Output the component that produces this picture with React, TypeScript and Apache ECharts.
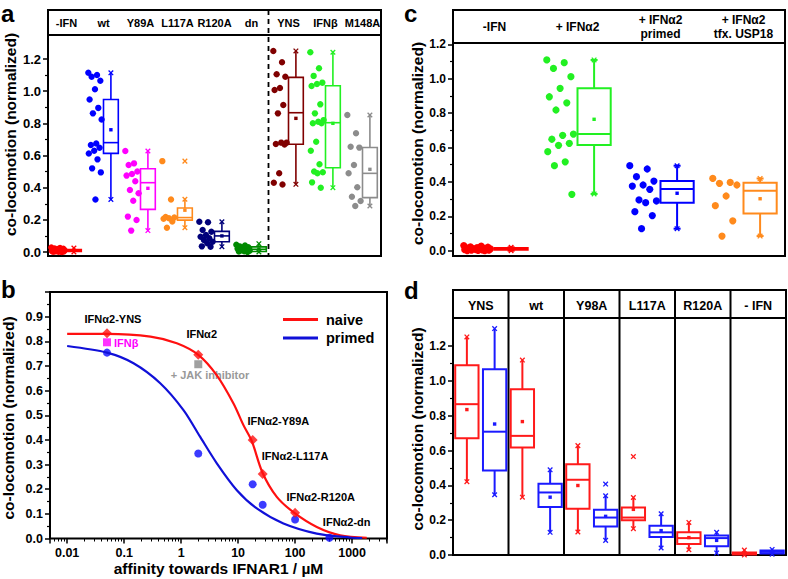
import React, { useEffect, useRef } from 'react';
import * as echarts from 'echarts';

const FONT = '"Liberation Sans", Arial, Helvetica, sans-serif';

// ---------- Panel a ----------
const aCategories = ['-IFN', 'wt', 'Y89A', 'L117A', 'R120A', 'dn', 'YNS', 'IFNβ', 'M148A'];
const aColors = ['#ff0000', '#0000ff', '#ff00ff', '#ff8a1c', '#00007a', '#008a00', '#800000', '#22f022', '#8c8c8c'];
const aMinusIfn = [0.028, 0.025, 0.022, 0.02, 0.018, 0.016, 0.014, 0.012, 0.011, 0.01, 0.009, 0.008, 0.007, 0.006, 0.005, 0.004, 0.003, 0.002, 0.001, 0.0];
const aWt = [1.114, 1.1, 1.09, 1.065, 1.012, 0.948, 0.896, 0.862, 0.824, 0.675, 0.665, 0.648, 0.63, 0.613, 0.576, 0.52, 0.495, 0.327];
const aY89A = [0.628, 0.551, 0.541, 0.5, 0.485, 0.475, 0.44, 0.386, 0.365, 0.319, 0.22, 0.199, 0.133];
const aL117A = [0.565, 0.327, 0.218, 0.214, 0.21, 0.207, 0.19, 0.151];
const aR120A = [0.188, 0.185, 0.137, 0.126, 0.106, 0.095, 0.085, 0.075, 0.064, 0.054, 0.035, 0.033];
const aDn = [0.045, 0.04, 0.035, 0.03, 0.025, 0.02, 0.015, 0.01, 0.008, 0.005, 0.003, 0.0];
const aYNS = [1.25, 1.18, 1.105, 1.09, 1.02, 1.007, 0.914, 0.862, 0.68, 0.68, 0.672, 0.668, 0.489, 0.431, 0.42];
const aIfnBeta = [1.242, 1.142, 1.095, 1.053, 1.045, 1.032, 0.918, 0.862, 0.82, 0.81, 0.8, 0.8, 0.686, 0.63, 0.545, 0.5, 0.496, 0.49, 0.433, 0.4];
const aM148A = [0.852, 0.738, 0.655, 0.649, 0.541, 0.489, 0.402, 0.344, 0.317, 0.286];
const aPoints = [aMinusIfn, aWt, aY89A, aL117A, aR120A, aDn, aYNS, aIfnBeta, aM148A];
// [min, q1, median, q3, max, mean]
const aBoxes = [
  [0.0, 0.004, 0.01, 0.016, 0.025, 0.01],
  [0.327, 0.613, 0.68, 0.948, 1.114, 0.76],
  [0.133, 0.265, 0.431, 0.518, 0.628, 0.396],
  [0.151, 0.198, 0.214, 0.274, 0.328, 0.26],
  [0.033, 0.064, 0.1, 0.128, 0.188, 0.1],
  [0.0, 0.003, 0.017, 0.032, 0.052, 0.018],
  [0.421, 0.67, 0.866, 1.086, 1.25, 0.831],
  [0.4, 0.524, 0.804, 1.034, 1.242, 0.8],
  [0.286, 0.338, 0.489, 0.65, 0.852, 0.514],
];
const aOutliers = [[3, 0.565]];

// ---------- Panel c ----------
const cCategories = ['-IFN', '+ IFNα2', '+ IFNα2\nprimed', '+ IFNα2\ntfx. USP18'];
const cColors = ['#ff0000', '#22f022', '#0000ff', '#ff8a1c'];
const cMinusIfn = [0.03, 0.026, 0.022, 0.02, 0.018, 0.016, 0.014, 0.012, 0.011, 0.01, 0.009, 0.008, 0.007, 0.006, 0.005, 0.004, 0.003, 0.002, 0.001, 0.0];
const cIfnA2 = [1.109, 1.093, 1.06, 1.012, 0.944, 0.895, 0.86, 0.818, 0.678, 0.671, 0.648, 0.624, 0.613, 0.576, 0.517, 0.494, 0.328];
const cPrimed = [0.494, 0.475, 0.43, 0.405, 0.382, 0.376, 0.357, 0.295, 0.289, 0.279, 0.227, 0.204, 0.128];
const cUsp18 = [0.42, 0.397, 0.392, 0.382, 0.318, 0.262, 0.174, 0.085];
const cPoints = [cMinusIfn, cIfnA2, cPrimed, cUsp18];
const cBoxes = [
  [0.0, 0.005, 0.01, 0.015, 0.02, 0.01],
  [0.33, 0.614, 0.678, 0.944, 1.109, 0.764],
  [0.128, 0.279, 0.359, 0.405, 0.494, 0.334],
  [0.085, 0.217, 0.349, 0.395, 0.42, 0.302],
];

// ---------- Panel d ----------
const dCategories = ['YNS', 'wt', 'Y98A', 'L117A', 'R120A', '- IFN'];
const dNaiveBoxes = [
  [0.421, 0.67, 0.866, 1.09, 1.252, 0.835],
  [0.332, 0.617, 0.684, 0.951, 1.119, 0.766],
  [0.132, 0.265, 0.432, 0.521, 0.628, 0.399],
  [0.151, 0.2, 0.215, 0.273, 0.33, 0.262],
  [0.03, 0.063, 0.097, 0.13, 0.187, 0.1],
  [0.0, 0.003, 0.008, 0.015, 0.028, 0.01],
];
const dPrimedBoxes = [
  [0.346, 0.485, 0.708, 1.066, 1.3, 0.752],
  [0.13, 0.275, 0.359, 0.409, 0.489, 0.332],
  [0.084, 0.163, 0.215, 0.26, 0.34, 0.222],
  [0.04, 0.103, 0.13, 0.168, 0.237, 0.14],
  [0.012, 0.05, 0.097, 0.112, 0.13, 0.084],
  [0.005, 0.008, 0.018, 0.026, 0.032, 0.02],
];
const dNaiveOutliers = [[3, 0.565]];
const dPrimedOutliers = [[2, 0.407]];

// ---------- Panel b ----------
const bNaiveCurve = [[0.01, 0.83], [0.05, 0.83], [0.29, 0.819], [0.84, 0.792], [2, 0.745], [4.2, 0.663], [8.3, 0.548], [12.4, 0.46], [17.4, 0.395], [26.7, 0.268], [47.7, 0.169], [97, 0.104], [240, 0.047], [617, 0.013], [1810, 0.003]];
const bPrimedCurve = [[0.01, 0.781], [0.05, 0.754], [0.146, 0.711], [0.43, 0.63], [1.1, 0.521], [2.15, 0.413], [4.23, 0.305], [9.5, 0.196], [21.3, 0.122], [62.4, 0.061], [240, 0.02], [920, 0.004], [1500, 0.002]];
const bNaivePoints = [[0.05, 0.833], [2, 0.745], [18, 0.4], [27, 0.262], [100, 0.104]];
const bPrimedPoints = [[0.05, 0.754], [2, 0.345], [18, 0.22], [27, 0.137], [100, 0.077], [400, 0.003]];
const bIfnBeta = [[0.05, 0.796]];
const bJak = [[2, 0.707]];
const bXTicks = [0.01, 0.1, 1, 10, 100, 1000];

// ---------- layout ----------
const GA = { left: 48, top: 59, width: 333, height: 193 };
const GC = { left: 453, top: 44.3, width: 332, height: 206.4 };
const GD = { left: 453, top: 346, width: 333, height: 209 };
const GB = { left: 50, top: 292, width: 337, height: 246.5 };

function jit(k: number) {
  return ((k * 0.6180339887) % 1) - 0.5;
}

function pointsSeries(axis: number, groups: number[][], colors: string[], off: number, spread: number, r: number) {
  const data: any[] = [];
  groups.forEach((vals, ci) => vals.forEach((v, k) => data.push([ci, v, k])));
  return {
    type: 'custom', xAxisIndex: axis, yAxisIndex: axis, clip: false, silent: true,
    encode: { x: 0, y: 1 },
    data,
    renderItem: (params: any, api: any) => {
      const ci = api.value(0), v = api.value(1), k = api.value(2);
      const band = api.size([1, 0])[0];
      const p = api.coord([ci, v]);
      return { type: 'circle', shape: { cx: p[0] + (off + spread * jit(k)) * band, cy: p[1], r }, style: { fill: colors[ci] } };
    },
  };
}

function crossEls(cx: number, y: number, col: string, s: number) {
  return [
    { type: 'line', shape: { x1: cx - s, y1: y - s, x2: cx + s, y2: y + s }, style: { stroke: col, lineWidth: 1.3 } },
    { type: 'line', shape: { x1: cx - s, y1: y + s, x2: cx + s, y2: y - s }, style: { stroke: col, lineWidth: 1.3 } },
  ];
}

function boxSeries(axis: number, boxes: number[][], colorOf: (ci: number) => string, off: number, wf: number, lw: number, cap: number) {
  return {
    type: 'custom', xAxisIndex: axis, yAxisIndex: axis, clip: false, silent: true,
    encode: { x: 0, y: [1, 2, 3, 4, 5] },
    data: boxes.map((b, ci) => [ci, ...b]),
    renderItem: (params: any, api: any) => {
      const ci = api.value(0);
      const band = api.size([1, 0])[0];
      const cx = api.coord([ci, 0])[0] + off * band;
      const w = wf * band;
      const Y = (i: number) => api.coord([ci, api.value(i)])[1];
      const yMin = Y(1), yQ1 = Y(2), yMed = Y(3), yQ3 = Y(4), yMax = Y(5), yMean = Y(6);
      const col = colorOf(ci);
      const st = { stroke: col, lineWidth: lw };
      const children: any[] = [
        { type: 'line', shape: { x1: cx, y1: yQ3, x2: cx, y2: yMax }, style: st },
        { type: 'line', shape: { x1: cx, y1: yQ1, x2: cx, y2: yMin }, style: st },
        { type: 'rect', shape: { x: cx - w / 2, y: yQ3, width: w, height: Math.max(yQ1 - yQ3, 0.5) }, style: { stroke: col, lineWidth: lw, fill: 'none' } },
        { type: 'line', shape: { x1: cx - w / 2, y1: yMed, x2: cx + w / 2, y2: yMed }, style: st },
        ...crossEls(cx, yMax, col, 2.3),
        ...crossEls(cx, yMin, col, 2.3),
        { type: 'rect', shape: { x: cx - 1.7, y: yMean - 1.7, width: 3.4, height: 3.4 }, style: { fill: col } },
      ];
      if (cap > 0) {
        children.push({ type: 'line', shape: { x1: cx - cap / 2, y1: yMax, x2: cx + cap / 2, y2: yMax }, style: st });
        children.push({ type: 'line', shape: { x1: cx - cap / 2, y1: yMin, x2: cx + cap / 2, y2: yMin }, style: st });
      }
      return { type: 'group', children };
    },
  };
}

function outlierSeries(axis: number, pts: number[][], colorOf: (ci: number) => string, off: number) {
  return {
    type: 'custom', xAxisIndex: axis, yAxisIndex: axis, clip: false, silent: true,
    encode: { x: 0, y: 1 },
    data: pts,
    renderItem: (params: any, api: any) => {
      const ci = api.value(0);
      const band = api.size([1, 0])[0];
      const p = api.coord([ci, api.value(1)]);
      return { type: 'group', children: crossEls(p[0] + off * band, p[1], colorOf(ci), 2.3) };
    },
  };
}

function yAx(gi: number, max: number, interval: number, fs: number, extra: any = {}) {
  return {
    type: 'value', gridIndex: gi, min: 0, max, interval,
    axisLine: { show: false },
    splitLine: { show: false },
    axisTick: { show: true, length: 5, lineStyle: { color: '#000', width: 1.5 } },
    minorTick: { show: true, splitNumber: 2, length: 3, lineStyle: { color: '#000', width: 1.2 } },
    axisLabel: { fontSize: fs, fontWeight: 'bold', fontFamily: FONT, color: '#000', margin: 7, formatter: (v: number) => v.toFixed(1), ...extra },
  };
}

function xCat(gi: number, cats: string[], margin: number, fs: number) {
  return {
    type: 'category', gridIndex: gi, data: cats, position: 'top',
    axisLine: { show: false, onZero: false }, axisTick: { show: false }, splitLine: { show: false },
    axisLabel: { interval: 0, margin, verticalAlign: 'middle', fontSize: fs, fontWeight: 'bold', fontFamily: FONT, color: '#000', lineHeight: fs * 1.1 },
  };
}

const txt = (x: number, y: number, text: string, fs: number, color = '#000', align = 'center', rotation = 0) => ({
  type: 'text', x, y, rotation,
  style: { text, fill: color, font: `bold ${fs}px ${FONT}`, align, verticalAlign: 'middle' },
  silent: true,
});
const frame = (g: any, top: number, bottom: number) => ({
  type: 'rect', shape: { x: g.left, y: top, width: g.width, height: bottom - top },
  style: { stroke: '#000', lineWidth: 2, fill: 'none' }, silent: true,
});
const hline = (x1: number, x2: number, y: number, dash: any = null) => ({
  type: 'line', shape: { x1, y1: y, x2, y2: y }, style: { stroke: '#000', lineWidth: 2, lineDash: dash }, silent: true,
});
const vline = (x: number, y1: number, y2: number, dash: any = null, lw = 2) => ({
  type: 'line', shape: { x1: x, y1, x2: x, y2 }, style: { stroke: '#000', lineWidth: lw, lineDash: dash }, silent: true,
});

export default function App() {
  const ref = useRef<HTMLDivElement>(null);
  useEffect(() => {
    if (!ref.current) return;
    const chart = echarts.init(ref.current, null, { renderer: 'svg' });
    const dBand = GD.width / dCategories.length;
    const aBand = GA.width / aCategories.length;
    const graphics: any[] = [
      // frames
      frame(GA, 10, 256), hline(GA.left, GA.left + GA.width, 35),
      vline(GA.left + aBand * 6 - 1.5, 10, 256, [5, 4], 1.8),
      frame(GC, 10, 256), hline(GC.left, GC.left + GC.width, 43),
      frame(GB, GB.top, GB.top + GB.height),
      frame(GD, 290, GD.top + GD.height), hline(GD.left, GD.left + GD.width, 318),
      ...[1, 2, 3, 4, 5].map((i) => vline(GD.left + dBand * i, 290, GD.top + GD.height)),
      // panel letters
      txt(1, 13, 'a', 24, '#000', 'left'),
      txt(1, 289, 'b', 24, '#000', 'left'),
      txt(404, 13, 'c', 24, '#000', 'left'),
      txt(404, 290, 'd', 24, '#000', 'left'),
      // y titles
      txt(10, 134.5, 'co-locomotion (normalized)', 15.5, '#000', 'center', Math.PI / 2),
      txt(417, 143.5, 'co-locomotion (normalized)', 15.5, '#000', 'center', Math.PI / 2),
      txt(417, 429, 'co-locomotion (normalized)', 15.5, '#000', 'center', Math.PI / 2),
      txt(8, 418, 'co-locomotion (normalized)', 15.5, '#000', 'center', Math.PI / 2),
      // panel b annotations
      txt(113, 319, 'IFNα2-YNS', 11),
      txt(114, 343.3, 'IFNβ', 11, '#ff00ff', 'left'),
      txt(201.7, 334.3, 'IFNα2', 11),
      txt(210, 375, '+ JAK inhibitor', 11, '#999999'),
      txt(278.3, 420.7, 'IFNα2-Y89A', 11),
      txt(295, 456, 'IFNα2-L117A', 11),
      txt(320.7, 497.3, 'IFNα2-R120A', 11),
      txt(346.7, 521.7, 'IFNα2-dn', 11),
    ];

    const option: any = {
      animation: false,
      backgroundColor: '#fff',
      textStyle: { fontFamily: FONT },
      grid: [
        { ...GA, containLabel: false },
        { ...GC, containLabel: false },
        { ...GD, containLabel: false },
        { ...GB, containLabel: false },
      ],
      xAxis: [
        xCat(0, aCategories, GA.top - 22.5, 11),
        xCat(1, cCategories, GC.top - 27, 12),
        xCat(2, dCategories, GD.top - 305.7, 12.5),
        {
          type: 'log', gridIndex: 3, min: 0.005, max: 4100, logBase: 10,
          axisLine: { show: false, onZero: false }, splitLine: { show: false },
          axisTick: { show: true, length: 5, lineStyle: { color: '#000', width: 1.5 } },
          minorTick: { show: true, splitNumber: 9, length: 3, lineStyle: { color: '#000', width: 1 } },
          axisLabel: {
            showMinLabel: false, showMaxLabel: false, margin: 8,
            fontSize: 12.5, fontWeight: 'bold', fontFamily: FONT, color: '#000',
            formatter: (v: number) => {
              const n = Number(v.toPrecision(6));
              return bXTicks.indexOf(n) >= 0 ? String(n) : '';
            },
          },
          name: 'affinity towards IFNAR1 / µM', nameLocation: 'middle', nameGap: 14,
          nameTextStyle: { fontSize: 15.5, fontWeight: 'bold', fontFamily: FONT, color: '#000' },
        },
      ],
      yAxis: [
        yAx(0, 1.2, 0.2, 13),
        yAx(1, 1.2, 0.2, 12),
        yAx(2, 1.2, 0.2, 12),
        yAx(3, 1.0, 0.1, 12.5, { showMaxLabel: false }),
      ],
      legend: {
        left: 278, top: 307, orient: 'vertical', itemWidth: 35, itemHeight: 3, itemGap: 3.5, icon: 'rect',
        data: ['naive', 'primed'],
        textStyle: { fontSize: 14.5, fontWeight: 'bold', fontFamily: FONT, color: '#000', padding: [0, 0, 0, 3] },
      },
      graphic: graphics,
      series: [
        // panel a
        pointsSeries(0, aPoints, aColors, -0.22, 0.38, 3.2),
        boxSeries(0, aBoxes, (ci) => aColors[ci], 0.2, 0.4, 1.6, 0),
        outlierSeries(0, aOutliers, (ci) => aColors[ci], 0.2),
        // panel c
        pointsSeries(1, cPoints, cColors, -0.2, 0.34, 3.6),
        boxSeries(1, cBoxes, (ci) => cColors[ci], 0.2, 0.4, 2, 7),
        // panel d
        boxSeries(2, dNaiveBoxes, () => '#ff1a1a', -0.25, 0.42, 2, 0),
        boxSeries(2, dPrimedBoxes, () => '#1a1aff', 0.25, 0.42, 2, 0),
        outlierSeries(2, dNaiveOutliers, () => '#ff1a1a', -0.25),
        outlierSeries(2, dPrimedOutliers, () => '#1a1aff', 0.25),
        // panel b
        {
          name: 'naive', type: 'line', xAxisIndex: 3, yAxisIndex: 3, data: bNaiveCurve, smooth: 0.3,
          showSymbol: false, clip: false, color: '#ff1010', lineStyle: { width: 2.2, color: '#ff1010' }, silent: true,
        },
        {
          name: 'primed', type: 'line', xAxisIndex: 3, yAxisIndex: 3, data: bPrimedCurve, smooth: 0.3,
          showSymbol: false, clip: false, color: '#1010d8', lineStyle: { width: 2.2, color: '#1010d8' }, silent: true,
        },
        { type: 'scatter', xAxisIndex: 3, yAxisIndex: 3, data: bPrimedPoints, symbol: 'circle', symbolSize: 8, itemStyle: { color: '#0a0aff' }, clip: false, silent: true },
        { type: 'scatter', xAxisIndex: 3, yAxisIndex: 3, data: bNaivePoints, symbol: 'diamond', symbolSize: 10, itemStyle: { color: '#ff1010' }, clip: false, silent: true },
        { type: 'scatter', xAxisIndex: 3, yAxisIndex: 3, data: bIfnBeta, symbol: 'rect', symbolSize: 8, itemStyle: { color: '#ff00ff' }, clip: false, silent: true },
        { type: 'scatter', xAxisIndex: 3, yAxisIndex: 3, data: bJak, symbol: 'rect', symbolSize: 8, itemStyle: { color: '#888888' }, clip: false, silent: true },
      ],
    };
    chart.setOption(option);
    return () => chart.dispose();
  }, []);
  return <div ref={ref} style={{ position: 'fixed', left: 0, top: 0, width: 788, height: 579, background: '#fff' }} />;
}
